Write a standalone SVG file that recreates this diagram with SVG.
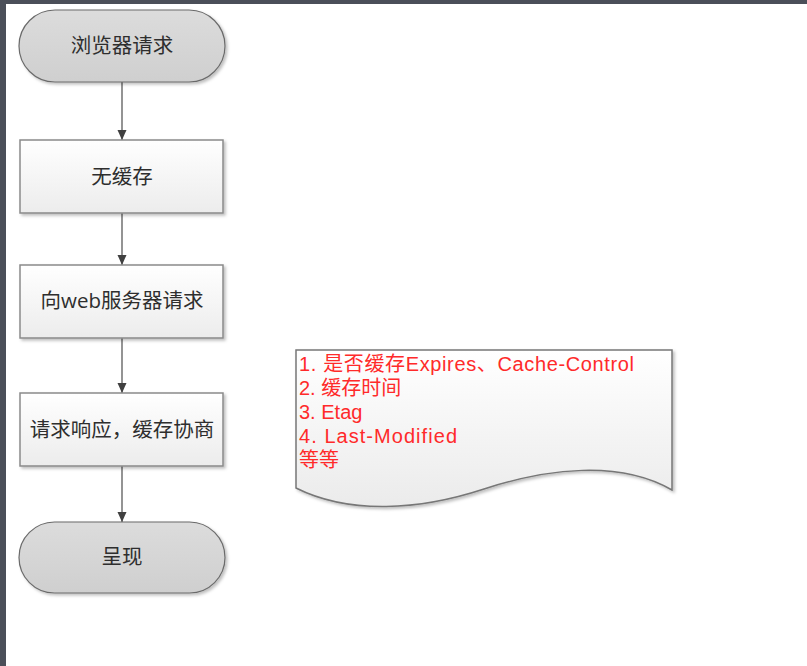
<svg xmlns="http://www.w3.org/2000/svg" width="807" height="666" viewBox="0 0 807 666">
<style>
.term{fill:url(#gTerm);stroke:#6b6b6b;stroke-width:1.2}
.box{fill:url(#gBox);stroke:#8a8a8a;stroke-width:1.5}
.lbl{font-family:"Open Sans","Noto Sans CJK SC",sans-serif;font-size:20.5px;fill:#2e2e2e;text-anchor:middle}
.conn{stroke:#707070;stroke-width:1.5;fill:none;marker-end:url(#arr)}
.note{font-family:"Liberation Sans","Noto Sans CJK SC",sans-serif;font-size:20px;fill:#ff2a2a}
</style>
<defs>
<linearGradient id="gTerm" x1="0" y1="0" x2="0" y2="1"><stop offset="0" stop-color="#dcdcdc"/><stop offset="1" stop-color="#cfcfcf"/></linearGradient>
<linearGradient id="gBox" x1="0" y1="0" x2="0" y2="1"><stop offset="0" stop-color="#ffffff"/><stop offset="1" stop-color="#ececec"/></linearGradient>
<linearGradient id="gNote" x1="0" y1="0" x2="0" y2="1"><stop offset="0" stop-color="#ffffff"/><stop offset="1" stop-color="#ebebeb"/></linearGradient>
<filter id="sh" x="-10%" y="-10%" width="130%" height="130%"><feDropShadow dx="2" dy="2" stdDeviation="1.5" flood-color="#000" flood-opacity="0.25"/></filter>
<marker id="arr" viewBox="0 0 10 10" refX="10" refY="5" markerWidth="10" markerHeight="10" markerUnits="userSpaceOnUse" orient="auto"><path d="M0,0.5 L10,5 L0,9.5 Z" fill="#404040"/></marker>
</defs>
<rect x="0" y="0" width="807" height="666" fill="#4b4f59"/>
<rect x="6" y="4" width="801" height="662" fill="#ffffff"/>
<g id="connectors">
<line class="conn" x1="122" y1="82" x2="122" y2="140"/>
<line class="conn" x1="122" y1="213" x2="122" y2="265"/>
<line class="conn" x1="122" y1="338" x2="122" y2="393"/>
<line class="conn" x1="122" y1="466" x2="122" y2="522"/>
</g>
<g id="start"><rect class="term" filter="url(#sh)" x="19" y="10" width="206" height="72" rx="36"/><text class="lbl" x="122" y="53">浏览器请求</text></g>
<g id="nocache"><rect class="box" filter="url(#sh)" x="20" y="140" width="203" height="73"/><text class="lbl" x="122" y="184">无缓存</text></g>
<g id="request"><rect class="box" filter="url(#sh)" x="20" y="265" width="203" height="73"/><text class="lbl" x="122" y="308">向web服务器请求</text></g>
<g id="response"><rect class="box" filter="url(#sh)" x="20" y="393" width="203" height="73"/><text class="lbl" x="122" y="437">请求响应，缓存协商</text></g>
<g id="end"><rect class="term" filter="url(#sh)" x="19" y="522" width="206" height="71" rx="35.5"/><text class="lbl" x="122" y="564">呈现</text></g>
<g id="note">
<path d="M296,350 H672 V490 C620,460 548,468 484,489 C420,510 350,515 296,488 Z" fill="url(#gNote)" stroke="#777" stroke-width="1.5" filter="url(#sh)"/>
<text class="note" x="299" y="371" textLength="335" lengthAdjust="spacing">1. 是否缓存Expires、Cache-Control</text>
<text class="note" x="299" y="395">2. 缓存时间</text>
<text class="note" x="299" y="419">3. Etag</text>
<text class="note" x="299" y="443" textLength="158" lengthAdjust="spacing">4. Last-Modified</text>
<text class="note" x="299" y="467">等等</text>
</g>
</svg>
